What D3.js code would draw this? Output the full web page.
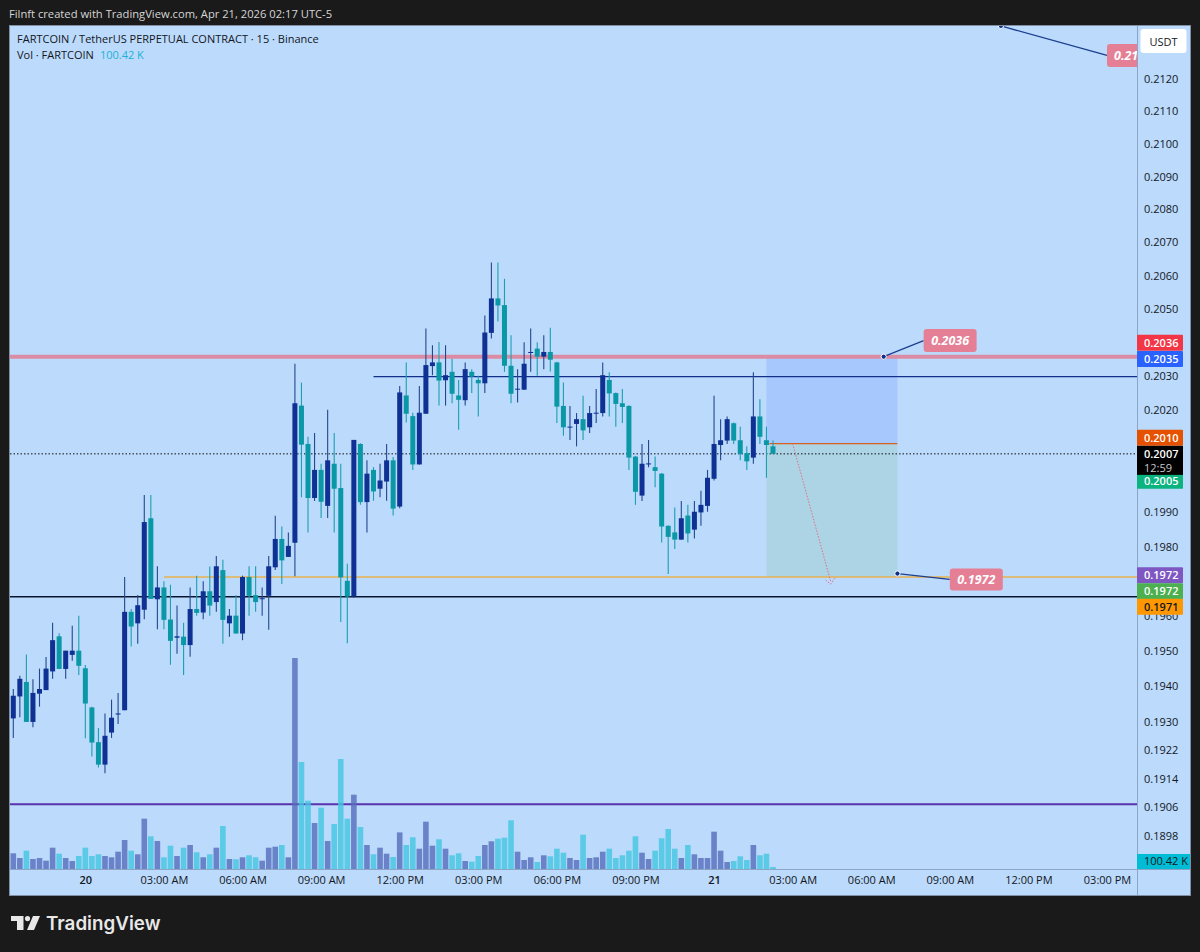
<!DOCTYPE html>
<html>
<head>
<meta charset="utf-8">
<style>
  html, body { margin: 0; padding: 0; background: #1a1a1a; }
  svg { display: block; }
  text { font-family: "Open Sans", sans-serif; }
</style>
<script src="https://cdn.jsdelivr.net/npm/d3@7"></script>
</head>
<body>
<svg id="chart" width="1200" height="952"></svg>
<script>
'use strict';

// 15 minute candles, oldest first
const opens = [
  0.19309,0.19371,0.19412,0.19299,0.19379,0.19389,0.19442,0.19542,0.19449,0.19489,
  0.19501,0.19451,0.19340,0.19242,0.19179,0.19269,0.19320,0.19332,0.19612,0.19579,
  0.19618,0.19882,0.19648,0.19682,0.19590,0.19538,0.19541,0.19517,0.19620,0.19610,
  0.19671,0.19640,0.19732,0.19579,0.19601,0.19550,0.19712,0.19660,0.19649,0.19658,
  0.19740,0.19822,0.19770,0.19811,0.20212,0.20099,0.19941,0.20023,0.19918,0.20041,
  0.19970,0.19701,0.19656,0.20099,0.19929,0.20023,0.19968,0.19989,0.20051,0.19916,
  0.20242,0.20181,0.20039,0.20188,0.20329,0.20340,0.20287,0.20312,0.20242,0.20228,
  0.20312,0.20288,0.20278,0.20428,0.20531,0.20511,0.20330,0.20260,0.20259,0.20369,
  0.20381,0.20357,0.20371,0.20340,0.20211,0.20148,0.20158,0.20172,0.20148,0.20190,
  0.20190,0.20288,0.20249,0.20219,0.20211,0.20062,0.19948,0.20039,0.20031,0.20012,
  0.19860,0.19841,0.19820,0.19890,0.19849,0.19899,0.19918,0.19997,0.20096,0.20109,
  0.20160,0.20110,0.20072,0.20059,0.20180,0.20110,0.20092
];
const highs = [
  0.19392,0.19430,0.19490,0.19420,0.19450,0.19483,0.19581,0.19551,0.19501,0.19572,
  0.19601,0.19460,0.19342,0.19282,0.19323,0.19362,0.19381,0.19712,0.19620,0.19660,
  0.19950,0.19950,0.19743,0.19700,0.19690,0.19630,0.19581,0.19682,0.19716,0.19700,
  0.19742,0.19773,0.19762,0.19620,0.19660,0.19716,0.19743,0.19743,0.19682,0.19773,
  0.19889,0.19858,0.19841,0.20336,0.20280,0.20120,0.20131,0.20041,0.20200,0.20131,
  0.20041,0.19750,0.20111,0.20101,0.20051,0.20031,0.20041,0.20099,0.20061,0.20270,
  0.20340,0.20191,0.20270,0.20441,0.20391,0.20401,0.20391,0.20351,0.20288,0.20340,
  0.20320,0.20300,0.20480,0.20639,0.20639,0.20590,0.20421,0.20320,0.20400,0.20441,
  0.20400,0.20421,0.20443,0.20342,0.20280,0.20211,0.20190,0.20241,0.20211,0.20261,
  0.20340,0.20311,0.20251,0.20261,0.20213,0.20064,0.20099,0.20111,0.20062,0.20014,
  0.19862,0.19913,0.19932,0.19921,0.19932,0.19962,0.20023,0.20241,0.20172,0.20180,
  0.20162,0.20150,0.20092,0.20311,0.20231,0.20150,0.20109
];
const lows = [
  0.19254,0.19312,0.19299,0.19284,0.19342,0.19389,0.19421,0.19449,0.19421,0.19472,
  0.19432,0.19253,0.19202,0.19171,0.19155,0.19254,0.19293,0.19332,0.19513,0.19521,
  0.19591,0.19649,0.19562,0.19562,0.19461,0.19492,0.19432,0.19484,0.19601,0.19591,
  0.19601,0.19612,0.19521,0.19541,0.19550,0.19531,0.19601,0.19612,0.19601,0.19561,
  0.19732,0.19692,0.19770,0.19714,0.19943,0.19841,0.19932,0.19883,0.19883,0.19841,
  0.19583,0.19522,0.19652,0.19921,0.19841,0.19933,0.19943,0.19933,0.19890,0.19911,
  0.20162,0.20023,0.20039,0.20188,0.20302,0.20212,0.20212,0.20219,0.20141,0.20212,
  0.20249,0.20180,0.20249,0.20411,0.20462,0.20312,0.20219,0.20221,0.20259,0.20312,
  0.20300,0.20320,0.20313,0.20161,0.20123,0.20111,0.20092,0.20111,0.20131,0.20161,
  0.20180,0.20180,0.20150,0.20161,0.20023,0.19921,0.19932,0.20031,0.19972,0.19812,
  0.19721,0.19793,0.19820,0.19812,0.19823,0.19860,0.19901,0.19992,0.20051,0.20099,
  0.20099,0.20051,0.20023,0.20041,0.20099,0.20000,0.20070
];
const closes = [
  0.19373,0.19421,0.19299,0.19381,0.19392,0.19450,0.19531,0.19449,0.19501,0.19501,
  0.19458,0.19351,0.19241,0.19179,0.19260,0.19311,0.19323,0.19612,0.19570,0.19631,
  0.19871,0.19649,0.19682,0.19589,0.19529,0.19542,0.19517,0.19620,0.19609,0.19671,
  0.19630,0.19743,0.19589,0.19601,0.19550,0.19712,0.19658,0.19640,0.19651,0.19743,
  0.19822,0.19760,0.19802,0.20219,0.20097,0.19941,0.20023,0.19930,0.20051,0.19968,
  0.19711,0.19656,0.20111,0.19929,0.20012,0.19960,0.19992,0.20051,0.19910,0.20251,
  0.20188,0.20039,0.20191,0.20332,0.20340,0.20286,0.20302,0.20247,0.20229,0.20320,
  0.20298,0.20278,0.20429,0.20531,0.20510,0.20330,0.20247,0.20262,0.20336,0.20371,
  0.20357,0.20371,0.20348,0.20209,0.20148,0.20150,0.20172,0.20139,0.20190,0.20191,
  0.20302,0.20248,0.20217,0.20208,0.20059,0.19959,0.20041,0.20042,0.20020,0.19858,
  0.19828,0.19820,0.19882,0.19838,0.19901,0.19921,0.20000,0.20099,0.20110,0.20172,
  0.20109,0.20070,0.20048,0.20180,0.20120,0.20096,0.20070
];
// volume in thousands of FARTCOIN
const volumes = [
  785,550,915,500,550,415,1065,765,550,400,
  650,1065,650,735,650,585,865,1450,915,735,
  2515,1635,1400,585,1165,650,1065,1200,835,585,
  735,1065,2150,500,485,585,685,585,415,1065,
  1115,1200,585,10550,5350,3415,2300,3065,1400,2250,
  5500,2515,3715,2100,1200,735,1065,765,600,1830,
  1200,1585,1015,2365,1165,1485,1015,685,785,400,
  365,650,1200,1385,1515,1565,2435,865,450,585,
  350,685,635,1015,815,550,450,1715,550,585,
  865,1015,550,685,915,1635,815,500,915,1535,
  2000,1015,550,1200,735,550,550,1865,915,350,
  400,635,450,1200,685,765,100.42
];

// ticks covered by a price tag are left out
const priceTicks = [0.2120,0.2110,0.2100,0.2090,0.2080,0.2070,0.2060,0.2050,0.2030,0.2020,0.1990,0.1980,0.1960,0.1950,0.1940,0.1930,0.1922,0.1914,0.1906,0.1898];
const timeLabels = ['20','03:00 AM','06:00 AM','09:00 AM','12:00 PM','03:00 PM','06:00 PM','09:00 PM','21','03:00 AM','06:00 AM','09:00 AM','12:00 PM','03:00 PM'];
const timeLabelBars = [11,23,35,47,59,71,83,95,107,119,131,143,155,167];

// horizontal drawings: price, first bar, colour, stroke width
const levels = [
  { price: 0.20357, from: -1, color: '#dc8ba4', width: 4 },
  { price: 0.20298, from: 55, color: '#12308a', width: 1.2 },
  { price: 0.19712, from: 23, color: '#e9b14e', width: 1.6 },
  { price: 0.19655, from: -1, color: '#0a1630', width: 1.5 },
  { price: 0.19068, from: -1, color: '#5b32ad', width: 2 }
];

// price axis tags, dy moves a tag off its price where they would overlap
const priceTags = [
  { price: 0.2036, text: '0.2036', color: '#f23645', fg: '#fff', dy: -13 },
  { price: 0.2035, text: '0.2035', color: '#2962ff', fg: '#fff', dy: 0 },
  { price: 0.2010, text: '0.2010', color: '#e65100', fg: '#fff', dy: -6 },
  { price: 0.2005, text: '0.2005', color: '#0bb37f', fg: '#fff', dy: 20 },
  { price: 0.1972, text: '0.1972', color: '#7e57c2', fg: '#fff', dy: 1 },
  { price: 0.1972, text: '0.1972', color: '#4caf50', fg: '#fff', dy: 17 },
  { price: 0.1971, text: '0.1971', color: '#ff9800', fg: '#131722', dy: 29 }
];

// long/short position tool
const entryPrice = 0.20100;
const stopPrice = 0.20357;
const targetPrice = 0.19712;
const positionBars = [115, 135];
const pathBars = [119, 124.8];
const pathPrices = [0.20100, 0.19700];

const UP_COLOR = '#0e3193';
const DOWN_COLOR = '#0b98a6';
const VOL_UP = '#576ebc';
const VOL_DOWN = '#43c7e1';
const CALLOUT = '#e57f95';

const paneLeft = 10, paneRight = 1137, paneTop = 26, paneBottom = 869, frameBottom = 895, frameRight = 1190;

const svg = d3.select('#chart');

const x = d3.scaleLinear().domain([0, 167]).range([13.3, 1107]);
const y = d3.scaleLog().domain([0.2120, 0.1898]).range([79, 836]);
const yVol = d3.scaleLinear().domain([0, 10550]).range([paneBottom, 658]);

const candles = opens.map((o, i) => ({
  i, o, h: highs[i], l: lows[i], c: closes[i], v: volumes[i], up: closes[i] >= o
}));

// Frame
svg.append('rect')
  .attr('x', paneLeft - 0.5).attr('y', paneTop - 0.5)
  .attr('width', frameRight - paneLeft + 1).attr('height', frameBottom - paneTop + 1)
  .attr('fill', '#bbdafc').attr('stroke', '#7f8ea3');

svg.append('defs').append('clipPath').attr('id', 'pane')
  .append('rect')
  .attr('x', paneLeft).attr('y', paneTop)
  .attr('width', paneRight - paneLeft).attr('height', paneBottom - paneTop);

const pane = svg.append('g').attr('clip-path', 'url(#pane)');

// Position tool
const boxX = x(positionBars[0]);
const boxW = x(positionBars[1]) - boxX;
pane.append('rect')
  .attr('x', boxX).attr('y', y(stopPrice))
  .attr('width', boxW).attr('height', y(entryPrice) - y(stopPrice))
  .attr('fill', '#a7c8fc');
pane.append('rect')
  .attr('x', boxX).attr('y', y(entryPrice))
  .attr('width', boxW).attr('height', y(targetPrice) - y(entryPrice))
  .attr('fill', '#acd4e4');

// Levels
pane.selectAll('line.level')
  .data(levels)
  .join('line')
  .attr('class', 'level')
  .attr('x1', d => x(d.from)).attr('x2', paneRight)
  .attr('y1', d => y(d.price)).attr('y2', d => y(d.price))
  .attr('stroke', d => d.color)
  .attr('stroke-width', d => d.width);

pane.append('line')
  .attr('x1', boxX + 3).attr('x2', boxX + boxW)
  .attr('y1', y(entryPrice)).attr('y2', y(entryPrice))
  .attr('stroke', '#d9601c').attr('stroke-width', 1.4);

// Volume
pane.append('g').attr('opacity', 0.8)
  .selectAll('rect')
  .data(candles)
  .join('rect')
  .attr('x', d => x(d.i) - 2.8)
  .attr('width', 5.6)
  .attr('y', d => yVol(d.v))
  .attr('height', d => paneBottom - yVol(d.v))
  .attr('fill', d => (d.up ? VOL_UP : VOL_DOWN));

// Last price line
pane.append('line')
  .attr('x1', paneLeft).attr('x2', paneRight)
  .attr('y1', y(0.2007)).attr('y2', y(0.2007))
  .attr('stroke', '#111').attr('stroke-dasharray', '1.5 2');

// Candles
const candle = pane.selectAll('g.candle')
  .data(candles)
  .join('g')
  .attr('class', 'candle');

candle.append('line')
  .attr('x1', d => x(d.i)).attr('x2', d => x(d.i))
  .attr('y1', d => y(d.h)).attr('y2', d => y(d.l))
  .attr('stroke', d => (d.up ? '#24488f' : '#1ba0ae'))
  .attr('stroke-width', 1.1);

candle.append('rect')
  .attr('x', d => x(d.i) - 2.5)
  .attr('width', 5)
  .attr('y', d => y(Math.max(d.o, d.c)))
  .attr('height', d => Math.max(1, y(Math.min(d.o, d.c)) - y(Math.max(d.o, d.c))))
  .attr('fill', d => (d.up ? UP_COLOR : DOWN_COLOR));

// Planned path of the short
pane.append('line')
  .attr('x1', x(pathBars[0])).attr('y1', y(pathPrices[0]))
  .attr('x2', x(pathBars[1])).attr('y2', y(pathPrices[1]))
  .attr('stroke', '#e0708c').attr('stroke-width', 1)
  .attr('stroke-dasharray', '1.5 1.5');
const tipX = x(pathBars[1]), tipY = y(pathPrices[1]);
pane.append('path')
  .attr('d', d3.line()([[tipX - 5, tipY - 1], [tipX, tipY + 3], [tipX + 4, tipY - 3]]))
  .attr('fill', 'none').attr('stroke', '#e0708c')
  .attr('stroke-dasharray', '1.5 1.5');

// Callouts: anchored at a bar and price, boxes sit at another bar and price
const callouts = [
  { bar: 132.9, price: 0.20357, boxBar: 139, boxPrice: 0.20405, w: 53, h: 23, text: '0.2036' },
  { bar: 135, price: 0.19722, boxBar: 143, boxPrice: 0.19705, w: 53, h: 22, text: '0.1972' },
  { bar: 150.8, price: 0.21365, boxBar: 167, boxPrice: 0.21273, w: 52, h: 23, text: '0.2138' }
];
const callout = pane.selectAll('g.callout')
  .data(callouts)
  .join('g')
  .attr('class', 'callout');
callout.append('line')
  .attr('x1', d => x(d.bar)).attr('y1', d => y(d.price))
  .attr('x2', d => x(d.boxBar)).attr('y2', d => y(d.boxPrice))
  .attr('stroke', '#1c3f8f').attr('stroke-width', 1.3);
callout.append('circle')
  .attr('cx', d => x(d.bar)).attr('cy', d => y(d.price)).attr('r', 2.6)
  .attr('fill', '#0e2f8a').attr('stroke', '#fff').attr('stroke-width', 1);
callout.append('rect')
  .attr('x', d => x(d.boxBar)).attr('y', d => y(d.boxPrice) - d.h / 2)
  .attr('width', d => d.w).attr('height', d => d.h)
  .attr('rx', 3).attr('fill', CALLOUT);
callout.append('text')
  .attr('x', d => x(d.boxBar) + d.w / 2).attr('y', d => y(d.boxPrice) + 4.5)
  .attr('text-anchor', 'middle')
  .attr('fill', '#fff')
  .style('font-size', '12.5px').style('font-weight', 700).style('font-style', 'italic')
  .text(d => d.text);

// Axis lines
svg.append('line')
  .attr('x1', paneRight + 0.5).attr('x2', paneRight + 0.5).attr('y1', paneTop).attr('y2', frameBottom)
  .attr('stroke', '#8ca5c4');
svg.append('line')
  .attr('x1', paneLeft).attr('x2', frameRight).attr('y1', paneBottom + 0.5).attr('y2', paneBottom + 0.5)
  .attr('stroke', '#8ca5c4');

// Price axis
const priceAxis = d3.axisRight(y)
  .tickValues(priceTicks)
  .tickFormat(d3.format('.4f'))
  .tickSize(0)
  .tickPadding(7);
const priceG = svg.append('g')
  .attr('transform', `translate(${paneRight},0)`)
  .call(priceAxis);
priceG.select('.domain').remove();
priceG.selectAll('text')
  .attr('fill', '#131722')
  .style('font-family', '"Open Sans", sans-serif')
  .style('font-size', '11px');

// Time axis
const timeAxis = d3.axisBottom(x)
  .tickValues(timeLabelBars)
  .tickFormat((d, i) => timeLabels[i])
  .tickSize(0)
  .tickPadding(7);
const timeG = svg.append('g')
  .attr('transform', `translate(0,${paneBottom})`)
  .call(timeAxis);
timeG.select('.domain').remove();
timeG.selectAll('text')
  .attr('fill', '#131722')
  .style('font-family', '"Open Sans", sans-serif')
  .style('font-size', '11px');
timeG.selectAll('text').filter(d => d === 11 || d === 107)
  .style('font-weight', 600);

// Price tags
const tag = svg.selectAll('g.tag')
  .data(priceTags)
  .join('g')
  .attr('class', 'tag')
  .attr('transform', d => `translate(${paneRight},${y(d.price) + d.dy})`);
tag.append('rect')
  .attr('y', -8).attr('width', 46).attr('height', 16).attr('rx', 1)
  .attr('fill', d => d.color);
tag.append('text')
  .attr('x', 7).attr('y', 4)
  .attr('fill', d => d.fg)
  .style('font-size', '11px').style('font-weight', 600)
  .text(d => d.text);

// Last price tag with countdown
const lastTag = svg.append('g').attr('transform', `translate(${paneRight},${y(0.2007)})`);
lastTag.append('rect').attr('y', -8).attr('width', 46).attr('height', 29).attr('fill', '#000');
lastTag.append('text').attr('x', 7).attr('y', 4).attr('fill', '#fff')
  .style('font-size', '11px').style('font-weight', 600).text('0.2007');
lastTag.append('text').attr('x', 7).attr('y', 18).attr('fill', '#c8c8c8')
  .style('font-size', '11px').text('12:59');

// Volume tag
const volTag = svg.append('g').attr('transform', `translate(${paneRight},${yVol(100.42)})`);
volTag.append('rect').attr('y', -13).attr('width', frameRight - paneRight).attr('height', 15).attr('fill', '#00bcd4');
volTag.append('text').attr('x', 7).attr('y', -2).attr('fill', '#131722')
  .style('font-size', '11px').text('100.42 K');

// Currency button
svg.append('rect')
  .attr('x', paneRight + 3.5).attr('y', 29).attr('width', 46).attr('height', 24).attr('rx', 3)
  .attr('fill', '#fff');
svg.append('text')
  .attr('x', paneRight + 26.5).attr('y', 46).attr('text-anchor', 'middle')
  .attr('fill', '#131722').style('font-size', '11px').text('USDT');

// Header and legend
svg.append('text')
  .attr('x', 9).attr('y', 18).attr('fill', '#d6d6d6')
  .style('font-size', '11.2px')
  .text('Filnft created with TradingView.com, Apr 21, 2026 02:17 UTC-5');
svg.append('text')
  .attr('x', 17).attr('y', 43).attr('fill', '#131722')
  .style('font-size', '11px')
  .text('FARTCOIN / TetherUS PERPETUAL CONTRACT · 15 · Binance');
const volLegend = svg.append('text')
  .attr('x', 17).attr('y', 59).attr('fill', '#131722')
  .style('font-size', '11px');
volLegend.append('tspan').text('Vol · FARTCOIN');
volLegend.append('tspan').attr('dx', 6).attr('fill', '#22b1d6').text('100.42 K');

// TradingView mark
const logo = svg.append('g').attr('transform', 'translate(11,916)').attr('fill', '#e8e8e8');
logo.append('path').attr('d', 'M0 0H12.5V14H6V5H0Z');
logo.append('circle').attr('cx', 16.5).attr('cy', 2.6).attr('r', 2.6);
logo.append('path').attr('d', 'M22 0H29L23 14H16Z');
svg.append('text')
  .attr('x', 46).attr('y', 930).attr('fill', '#e8e8e8')
  .style('font-family', 'Inter, sans-serif')
  .style('font-size', '18.8px').style('font-weight', 600)
  .text('TradingView');
</script>
</body>
</html>
